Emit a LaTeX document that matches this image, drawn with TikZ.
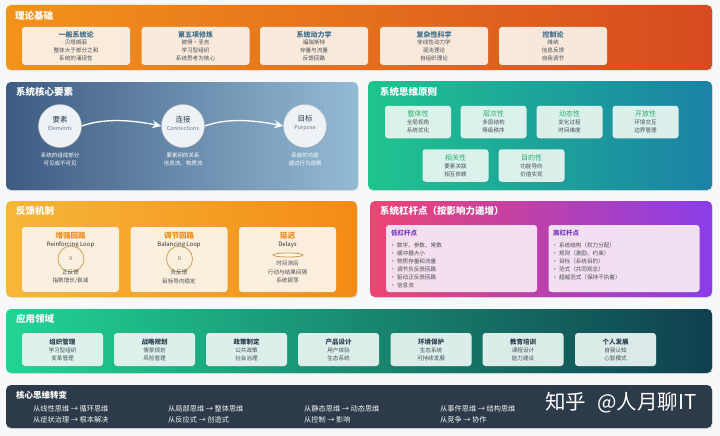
\documentclass[tikz,border=0pt]{standalone}
\usepackage{fontspec}
\setmainfont{Noto Sans CJK SC}
\usetikzlibrary{shadows,arrows.meta,shapes.geometric}
\newcommand{\myfs}[2]{\fontsize{#1}{#2}\selectfont}
\definecolor{bgc}{HTML}{F6F8FA}
\definecolor{pAl}{HTML}{F2931B}\definecolor{pAr}{HTML}{D64B1F}
\definecolor{pBl}{HTML}{3E5B82}\definecolor{pBr}{HTML}{94BBD5}
\definecolor{pCl}{HTML}{1FC48E}\definecolor{pCr}{HTML}{1B82A5}
\definecolor{pDl}{HTML}{F6B739}\definecolor{pDr}{HTML}{F38B14}
\definecolor{pEl}{HTML}{EC4572}\definecolor{pEr}{HTML}{8A3DE8}
\definecolor{pFl}{HTML}{22D494}\definecolor{pFr}{HTML}{0F3F4E}
\definecolor{pG}{HTML}{2C3A4A}
\definecolor{cardA}{HTML}{FCF3E9}\definecolor{ttlA}{HTML}{3E6E8E}
\definecolor{cardC}{HTML}{E9F7F2}\definecolor{ttlC}{HTML}{2BAF6E}
\definecolor{cardD}{HTML}{FDF6EC}\definecolor{ttlD}{HTML}{EC8A1F}\definecolor{ringD}{HTML}{CC9A45}
\definecolor{cardE}{HTML}{F8EBF6}\definecolor{ttlE}{HTML}{7A3CC8}
\definecolor{cardF}{HTML}{EAF6F3}\definecolor{ttlF}{HTML}{2C3E50}
\definecolor{txtc}{HTML}{4A4F55}
\definecolor{circf}{HTML}{EDF2F7}\definecolor{circt}{HTML}{2C3E50}\definecolor{circs}{HTML}{6C7A89}
\begin{document}
\begin{tikzpicture}[x=1pt,y=-1pt,
  panel/.style={rounded corners=5pt, drop shadow={shadow xshift=0.6pt,shadow yshift=-1.2pt,opacity=0.18}},
  ptitle/.style={anchor=west, text=white, font=\myfs{9.5}{11}\bfseries, inner sep=0},
  card/.style={rounded corners=3pt, fill opacity=0.93, text opacity=1, inner sep=0,
    drop shadow={shadow xshift=0.4pt,shadow yshift=-0.8pt,opacity=0.12},
    align=center, text=txtc, font=\myfs{5.6}{7.7}},
  tcard/.style={card, fill=cardA, minimum width=108pt, minimum height=38pt},
  ccard/.style={card, fill=cardC, minimum width=66pt, minimum height=32.5pt, font=\myfs{5.6}{8}},
  dcard/.style={card, fill=cardD, minimum width=97pt, minimum height=65pt},
  ecard/.style={card, fill=cardE, minimum width=151pt, minimum height=67pt},
  fcard/.style={card, fill=cardF, minimum width=81pt, minimum height=33pt, font=\myfs{5.6}{8}},
  ring/.style={circle, draw=circf!80!black, fill=circf, minimum size=43pt, inner sep=0,
    drop shadow={shadow xshift=0.5pt,shadow yshift=-1pt,opacity=0.2}},
  ctxt/.style={align=center, inner sep=0, text=circt, font=\myfs{7.5}{10}},
  wtxt/.style={align=center, inner sep=0, text=white, font=\myfs{5.5}{8}},
  flow/.style={white, line width=1.3pt, -{Stealth[length=9pt,width=8pt]}},
  dtxt/.style={inner sep=0, text=txtc, font=\myfs{5.6}{7}},
  bul/.style={anchor=west, inner sep=0, text=txtc, font=\myfs{5.6}{7}},
  shiftline/.style={anchor=west, inner sep=0, text=white!92!gray, font=\myfs{7.2}{8}}
]
\useasboundingbox (0,0) rectangle (720,436);
\fill[bgc] (0,0) rectangle (720,436);

% ---------- 1 理论基础
\path[panel, left color=pAl, right color=pAr] (6,5) rectangle (712,70);
\node[ptitle] (tA) at (15,16) {理论基础};
\node[tcard] (a1) at (76,46) {{\myfs{7}{8}\bfseries\color{ttlA}一般系统论}\\贝塔朗菲\\整体大于部分之和\\系统的涌现性};
\node[tcard] (a2) at (195.5,46) {{\myfs{7}{8}\bfseries\color{ttlA}第五项修炼}\\彼得·圣吉\\学习型组织\\系统思考为核心};
\node[tcard] (a3) at (314,46) {{\myfs{7}{8}\bfseries\color{ttlA}系统动力学}\\福瑞斯特\\存量与流量\\反馈回路};
\node[tcard] (a4) at (434,46) {{\myfs{7}{8}\bfseries\color{ttlA}复杂性科学}\\非线性动力学\\混沌理论\\自组织理论};
\node[tcard] (a5) at (553,46) {{\myfs{7}{8}\bfseries\color{ttlA}控制论}\\维纳\\信息反馈\\自我调节};

% ---------- 2 系统核心要素
\path[panel, left color=pBl, right color=pBr] (6,82) rectangle (358,190);
\node[ptitle] (tB) at (16,92) {系统核心要素};
\node[ring] (c1) at (60,126) {};
\node[ring] (c2) at (183,126) {};
\node[ring] (c3) at (305,126) {};
\node[ctxt] (c1t) at (60,123) {要素\\[-2pt]{\myfs{5.5}{6}\color{circs}Elements}};
\node[ctxt] (c2t) at (183,123) {连接\\[-2pt]{\myfs{5.5}{6}\color{circs}Connections}};
\node[ctxt] (c3t) at (305,123) {目标\\[-2pt]{\myfs{5.5}{6}\color{circs}Purpose}};
\draw[flow] (c1.east) .. controls +(25,-9) and +(-25,-5) .. (c2.west);
\draw[flow] (c2.east) .. controls +(25,-9) and +(-25,-5) .. (c3.west);
\node[wtxt] (c1d) at (60,159) {系统的组成部分\\可见或不可见};
\node[wtxt] (c2d) at (183,159) {要素间的关系\\信息流、物质流};
\node[wtxt] (c3d) at (305,159) {系统的功能\\通过行为观察};

% ---------- 3 系统思维原则
\path[panel, left color=pCl, right color=pCr] (368,81) rectangle (712,190);
\node[ptitle] (tC) at (380,92) {系统思维原则};
\node[ccard] (p1) at (418,122) {{\myfs{7}{8}\color{ttlC}整体性}\\全局视角\\系统优化};
\node[ccard] (p2) at (493.5,122) {{\myfs{7}{8}\color{ttlC}层次性}\\多层结构\\等级秩序};
\node[ccard] (p3) at (569.5,122) {{\myfs{7}{8}\color{ttlC}动态性}\\变化过程\\时间维度};
\node[ccard] (p4) at (645.5,122) {{\myfs{7}{8}\color{ttlC}开放性}\\环境交互\\边界管理};
\node[ccard] (p5) at (455.5,165.5) {{\myfs{7}{8}\color{ttlC}相关性}\\要素关联\\相互依赖};
\node[ccard] (p6) at (531.5,165.5) {{\myfs{7}{8}\color{ttlC}目的性}\\功能导向\\价值实现};

% ---------- 4 反馈机制
\path[panel, left color=pDl, right color=pDr] (6,201) rectangle (357,297);
\node[ptitle] (tD) at (16,211) {反馈机制};
\node[dcard] (f1) at (70.5,259.5) {};
\node[dcard] (f2) at (179,259.5) {};
\node[dcard] (f3) at (287.5,259.5) {};
\node[dtxt, text=ttlD, font=\myfs{7.5}{8}\bfseries] (f1a) at (70.5,236) {增强回路};
\node[dtxt, text=black!80, font=\myfs{6}{7}] (f1b) at (70.5,245) {Reinforcing Loop};
\node[circle, draw=ringD, line width=0.7pt, minimum size=26pt, inner sep=0, text=gray, font=\myfs{5}{6}] (f1c) at (71,259) {R};
\node[dtxt] (f1d) at (70.5,272) {正反馈};
\node[dtxt] (f1e) at (70.5,281) {指数增长/衰减};
\node[dtxt, text=ttlD, font=\myfs{7.5}{8}\bfseries] (f2a) at (179,236) {调节回路};
\node[dtxt, text=black!80, font=\myfs{6}{7}] (f2b) at (179,245) {Balancing Loop};
\node[circle, draw=ringD, line width=0.7pt, minimum size=26pt, inner sep=0, text=gray, font=\myfs{5}{6}] (f2c) at (179.5,259) {B};
\node[dtxt] (f2d) at (179,272) {负反馈};
\node[dtxt] (f2e) at (179,281) {目标导向稳定};
\node[dtxt, text=ttlD, font=\myfs{7.5}{8}\bfseries] (f3a) at (287.5,236) {延迟};
\node[dtxt, text=black!80, font=\myfs{6}{7}] (f3b) at (287.5,245) {Delays};
\node[ellipse, draw=ringD, line width=0.8pt, fill=cardD, minimum width=30pt, minimum height=4pt, inner sep=0] (f3c) at (288,255) {};
\node[dtxt] (f3d) at (287.5,263.5) {时间滞后};
\node[dtxt] (f3e) at (287.5,272) {行动与结果间隔};
\node[dtxt] (f3f) at (287.5,280.5) {系统振荡};

% ---------- 5 系统杠杆点
\path[panel, left color=pEl, right color=pEr] (370,201) rectangle (712,297);
\node[ptitle] (tE) at (380,211) {系统杠杆点（按影响力递增）};
\node[ecard] (lo) at (461.5,258.5) {};
\node[ecard] (hi) at (624,258.5) {};
\node[bul, text=ttlE, font=\myfs{6.5}{7}\bfseries] (loT) at (391,233) {低杠杆点};
\node[bul, text=ttlE, font=\myfs{6.5}{7}\bfseries] (hiT) at (553,233) {高杠杆点};
\foreach \t [count=\i] in {数字、参数、常数,缓冲器大小,物质存量和流量,调节负反馈回路,驱动正反馈回路,信息流}
  \node[bul] (lo\i) at (390,237+8.1*\i) {• \t};
\foreach \t [count=\i] in {系统结构（权力分配）,规则（激励、约束）,目标（系统目的）,范式（共同观念）,超越范式（保持不执着）}
  \node[bul] (hi\i) at (552,237+8.1*\i) {• \t};

% ---------- 6 应用领域
\path[panel, left color=pFl, right color=pFr] (6,309) rectangle (712,373);
\node[ptitle] (tF) at (16,319) {应用领域};
\node[fcard] (g1) at (62.5,349.5) {{\myfs{6.5}{8}\bfseries\color{ttlF}组织管理}\\学习型组织\\变革管理};
\node[fcard] (g2) at (154.5,349.5) {{\myfs{6.5}{8}\bfseries\color{ttlF}战略规划}\\情景规划\\风险管理};
\node[fcard] (g3) at (246.5,349.5) {{\myfs{6.5}{8}\bfseries\color{ttlF}政策制定}\\公共政策\\社会治理};
\node[fcard] (g4) at (338.5,349.5) {{\myfs{6.5}{8}\bfseries\color{ttlF}产品设计}\\用户体验\\生态系统};
\node[fcard] (g5) at (431,349.5) {{\myfs{6.5}{8}\bfseries\color{ttlF}环境保护}\\生态系统\\可持续发展};
\node[fcard] (g6) at (523,349.5) {{\myfs{6.5}{8}\bfseries\color{ttlF}教育培训}\\课程设计\\能力建设};
\node[fcard] (g7) at (615.5,349.5) {{\myfs{6.5}{8}\bfseries\color{ttlF}个人发展}\\自我认知\\心智模式};

% ---------- 7 核心思维转变
\path[panel, fill=pG] (6,385) rectangle (712,428);
\node[ptitle, font=\myfs{8.5}{10}\bfseries] (tG) at (16,395) {核心思维转变};
\node[shiftline] (s1) at (33,409) {从线性思维 → 循环思维};
\node[shiftline] (s2) at (33,420) {从症状治理 → 根本解决};
\node[shiftline] (s3) at (168,409) {从局部思维 → 整体思维};
\node[shiftline] (s4) at (168,420) {从反应式 → 创造式};
\node[shiftline] (s5) at (304,409) {从静态思维 → 动态思维};
\node[shiftline] (s6) at (304,420) {从控制 → 影响};
\node[shiftline] (s7) at (440,409) {从事件思维 → 结构思维};
\node[shiftline] (s8) at (440,420) {从竞争 → 协作};
\node[anchor=west, inner sep=0, text=white, font=\myfs{20.5}{24}] (wm) at (545,403) {知乎\hspace{0.55em}@人月聊IT};
\end{tikzpicture}
\end{document}
